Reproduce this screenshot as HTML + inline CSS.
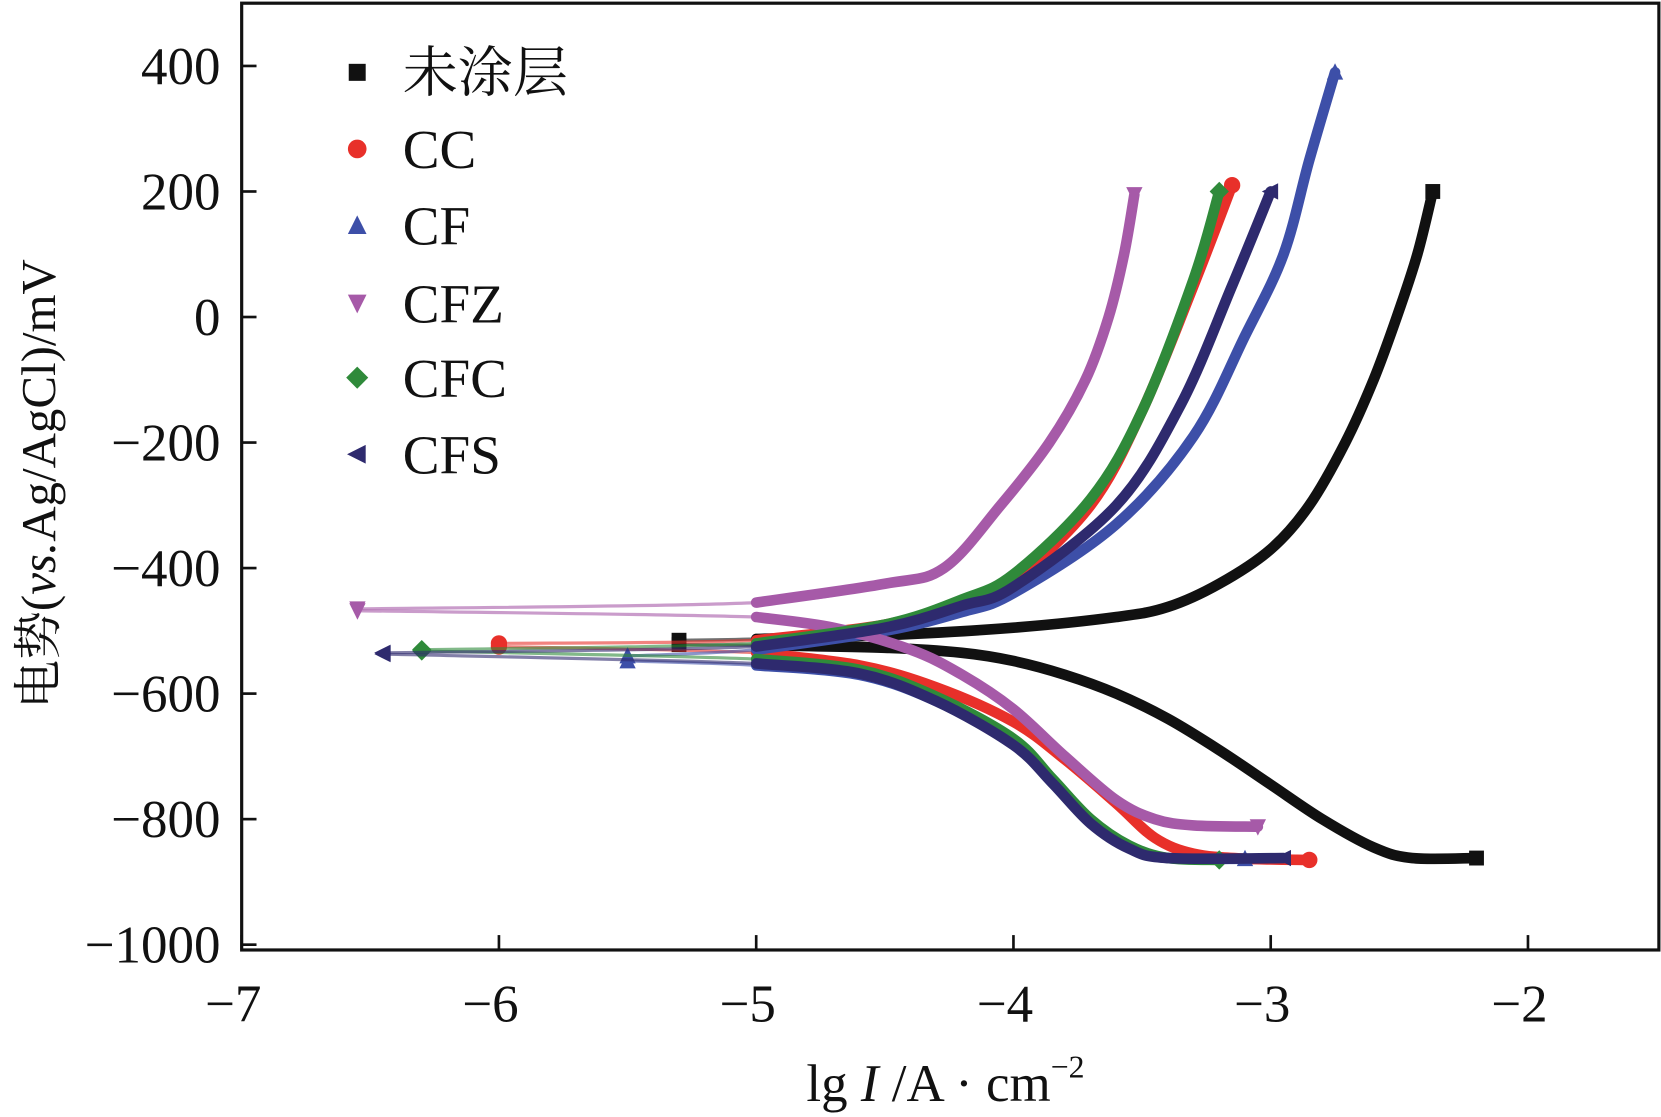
<!DOCTYPE html>
<html><head><meta charset="utf-8"><style>
html,body{margin:0;padding:0;background:#fff;}
svg{display:block;}
text{font-family:"Liberation Serif","Noto Serif CJK SC",serif;fill:#111;}
</style></head><body>
<svg id="chart" width="1661" height="1117" viewBox="0 0 1567 1050" preserveAspectRatio="none" xmlns="http://www.w3.org/2000/svg">
<g id="plot"></g>
</svg>
<script>
const xTicks=[-7,-6,-5,-4,-3,-2];
const yTicks=[400,200,0,-200,-400,-600,-800,-1000];
const seriesNames=["未涂层","CC","CF","CFZ","CFC","CFS"];
const seriesColors=["#111111","#e8302a","#3d4fa8","#a65aa8","#2f8a3a","#2e2a6e"];
const seriesMarkers=["square","circle","up","down","diamond","left"];
// anodic / cathodic branches: [lgI, E mV]
const anodic0=[[-5.3,-515],[-5,-513],[-4.5,-507],[-4,-495],[-3.6,-478],[-3.4,-462],[-3.2,-425],[-3.0,-370],[-2.85,-300],[-2.71,-200],[-2.6,-100],[-2.51,0],[-2.43,100],[-2.37,200]];
const cathodic0=[[-5.3,-522],[-5,-523],[-4.5,-527],[-4.2,-535],[-4,-548],[-3.8,-570],[-3.6,-600],[-3.4,-640],[-3.2,-690],[-3.0,-745],[-2.8,-800],[-2.6,-845],[-2.45,-862],[-2.2,-862]];
const anodic1=[[-6,-520],[-5,-515],[-4.5,-490],[-4.2,-455],[-4,-420],[-3.7,-300],[-3.5,-150],[-3.3,50],[-3.15,210]];
const cathodic1=[[-6,-525],[-5,-535],[-4.6,-555],[-4.3,-590],[-4,-645],[-3.8,-705],[-3.6,-775],[-3.45,-830],[-3.3,-855],[-3.1,-863],[-2.85,-865]];
const anodic2=[[-5.5,-540],[-5,-530],[-4.5,-500],[-4.2,-470],[-4,-440],[-3.6,-330],[-3.3,-190],[-3.1,-30],[-2.95,100],[-2.85,250],[-2.75,390]];
const cathodic2=[[-5.5,-548],[-5,-555],[-4.6,-570],[-4.3,-612],[-4,-680],[-3.85,-740],[-3.7,-805],[-3.55,-845],[-3.4,-862],[-3.1,-863]];
const anodic3=[[-6.55,-465],[-5,-455],[-4.5,-425],[-4.27,-400],[-4.05,-300],[-3.86,-200],[-3.72,-100],[-3.63,0],[-3.57,100],[-3.53,195]];
const cathodic3=[[-6.55,-468],[-5,-478],[-4.7,-495],[-4.4,-530],[-4.2,-570],[-4,-625],[-3.8,-700],[-3.6,-770],[-3.45,-800],[-3.3,-810],[-3.05,-812]];
const anodic4=[[-6.3,-530],[-5,-520],[-4.5,-490],[-4.2,-450],[-4,-410],[-3.7,-290],[-3.5,-150],[-3.3,60],[-3.2,200]];
const cathodic4=[[-6.3,-532],[-5,-545],[-4.6,-562],[-4.3,-605],[-4,-672],[-3.85,-735],[-3.7,-800],[-3.55,-842],[-3.4,-862],[-3.2,-865]];
const anodic5=[[-6.45,-535],[-5,-525],[-4.5,-495],[-4.2,-460],[-4,-430],[-3.6,-300],[-3.35,-140],[-3.15,50],[-3,200]];
const cathodic5=[[-6.45,-537],[-5,-552],[-4.6,-568],[-4.3,-612],[-4,-682],[-3.85,-742],[-3.7,-807],[-3.55,-847],[-3.4,-862],[-2.95,-862]];
const anodics=[anodic0,anodic1,anodic2,anodic3,anodic4,anodic5];
const cathodics=[cathodic0,cathodic1,cathodic2,cathodic3,cathodic4,cathodic5];

const L=228,R=1565,T=3,B=893;
const X=v=>L+(v+7)*242.7;
const Y=v=>298-v*0.59;
const NS="http://www.w3.org/2000/svg";
const g=document.getElementById('plot');
function mk(tag,attrs,parent){const e=document.createElementNS(NS,tag);for(const k in attrs)e.setAttribute(k,attrs[k]);(parent||g).appendChild(e);return e;}
function path(pts){
  const p=pts.map(d=>[X(d[0]),Y(d[1])]);
  let s="M"+p[0][0]+","+p[0][1];
  for(let i=0;i<p.length-1;i++){
    const p0=p[i-1]||p[i],p1=p[i],p2=p[i+1],p3=p[i+2]||p2;
    s+=" C"+(p1[0]+(p2[0]-p0[0])/6)+","+(p1[1]+(p2[1]-p0[1])/6)+" "+(p2[0]-(p3[0]-p1[0])/6)+","+(p2[1]-(p3[1]-p1[1])/6)+" "+p2[0]+","+p2[1];
  }
  return s;
}
function marker(type,cx,cy,r,color,parent){
  let e;
  if(type==="square")e=mk('rect',{x:cx-r,y:cy-r,width:2*r,height:2*r,fill:color},parent);
  else if(type==="circle")e=mk('circle',{cx:cx,cy:cy,r:r*1.1,fill:color},parent);
  else{
    let pts;
    if(type==="up")pts=[[cx,cy-r*1.2],[cx+r*1.1,cy+r],[cx-r*1.1,cy+r]];
    if(type==="down")pts=[[cx,cy+r*1.2],[cx+r*1.1,cy-r],[cx-r*1.1,cy-r]];
    if(type==="diamond")pts=[[cx,cy-r*1.3],[cx+r*1.3,cy],[cx,cy+r*1.3],[cx-r*1.3,cy]];
    if(type==="left")pts=[[cx-r*1.2,cy],[cx+r,cy-r*1.1],[cx+r,cy+r*1.1]];
    e=mk('polygon',{points:pts.map(p=>p.join(',')).join(' '),fill:color},parent);
  }
  return e;
}
const frame=mk('rect',{x:L,y:T,width:R-L,height:B-T,fill:'none',stroke:'#111','stroke-width':3});


xTicks.forEach(v=>{
  const t=mk('line',{x1:X(v),x2:X(v),y1:B,y2:B-14,stroke:'#111','stroke-width':2.5});
  
  
  const l=mk('text',{x:X(v)-8,y:960,'font-size':50,'text-anchor':'middle'});
  l.textContent="\u2212"+Math.abs(v);
  
  
});
yTicks.forEach(v=>{
  const t=mk('line',{x1:L,x2:L+14,y1:Y(v),y2:Y(v),stroke:'#111','stroke-width':2.5});
  
  
  const l=mk('text',{x:208,y:Y(v)+17,'font-size':50,'text-anchor':'end'});
  l.textContent=(v<0?"\u2212":"")+Math.abs(v);
  
  
});
seriesNames.forEach((n,i)=>{
  const sg=mk('g',{});
  
  
  [anodics[i],cathodics[i]].forEach(br=>{
    mk('path',{d:path(br),fill:'none',stroke:seriesColors[i],'stroke-width':3,'stroke-opacity':0.6},sg);
    const dense=br.filter(d=>d[0]>=-5.05);
    mk('path',{d:path(dense),fill:'none',stroke:seriesColors[i],'stroke-width':10,'stroke-linecap':'round'},sg);
    br.filter(d=>d[0]<-5.05).forEach(d=>marker(seriesMarkers[i],X(d[0]),Y(d[1]),7,seriesColors[i],sg));
    const last=br[br.length-1];
    marker(seriesMarkers[i],X(last[0]),Y(last[1]),7,seriesColors[i],sg);
  });
});
const legY=[68,140,212,285,355,427];
seriesNames.forEach((n,i)=>{
  const lg=mk('g',{});
  
  
  marker(seriesMarkers[i],337,legY[i],8,seriesColors[i],lg);
  const t=mk('text',{x:380,y:legY[i]+18,'font-size':52},lg);
  t.textContent=n;
});
const yl=mk('text',{x:0,y:0,'font-size':46,'text-anchor':'middle',transform:'translate(52,455) rotate(-90)'});
yl.innerHTML='电势(<tspan font-style="italic">vs.</tspan>Ag/AgCl)/mV';


const xl=mk('text',{x:892,y:1035,'font-size':50,'text-anchor':'middle'});
xl.innerHTML='lg <tspan font-style="italic">I</tspan> /A · cm<tspan font-size="30" dy="-22">−2</tspan>';


</script>
</body></html>
